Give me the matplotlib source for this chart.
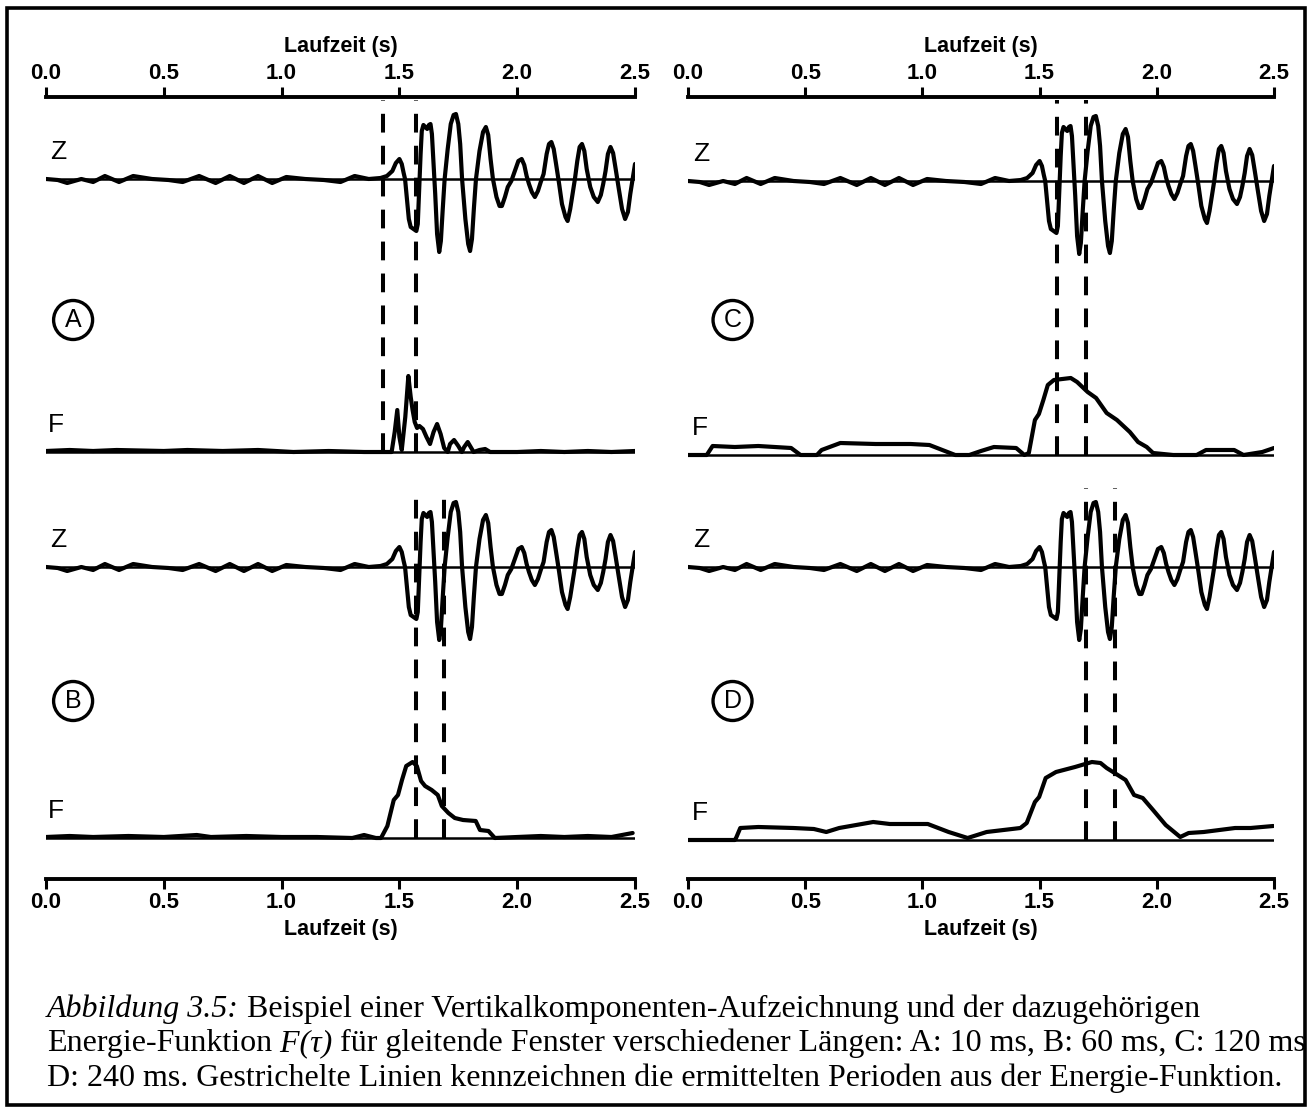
import matplotlib
matplotlib.use("Agg")
import matplotlib.pyplot as plt
from matplotlib.patches import Rectangle

plt.rcParams['lines.scale_dashes'] = False

# ---------------- data (amplitudes in drawing units, time in s) ----------------
xticks = [0.0, 0.5, 1.0, 1.5, 2.0, 2.5]
xticklabels = ["0.0", "0.5", "1.0", "1.5", "2.0", "2.5"]
axis_label = "Laufzeit (s)"

# vertical component seismogram (same record in all four panels)
z_t = [0.00, 0.05, 0.09, 0.15, 0.20, 0.25, 0.31, 0.37, 0.45, 0.52, 0.58, 0.65,
       0.72, 0.78, 0.84, 0.90, 0.96, 1.02, 1.10, 1.18, 1.25, 1.31, 1.37, 1.42,
       1.447, 1.47, 1.485, 1.50, 1.51, 1.518, 1.524, 1.532, 1.54, 1.548, 1.56,
       1.572, 1.578, 1.584, 1.59, 1.595, 1.602, 1.61, 1.618, 1.625, 1.632, 1.638,
       1.645, 1.652, 1.66, 1.669, 1.676, 1.684, 1.692, 1.705, 1.718, 1.73, 1.74,
       1.75, 1.758, 1.766, 1.78, 1.792, 1.80, 1.808, 1.816, 1.825, 1.84, 1.855,
       1.867, 1.877, 1.887, 1.897, 1.912, 1.925, 1.935, 1.948, 1.96, 1.975, 1.99,
       2.005, 2.019, 2.03, 2.04, 2.05, 2.062, 2.075, 2.088, 2.10, 2.112, 2.125,
       2.135, 2.145, 2.155, 2.165, 2.178, 2.19, 2.205, 2.214, 2.225, 2.235, 2.245,
       2.255, 2.265, 2.275, 2.285, 2.295, 2.31, 2.325, 2.342, 2.355, 2.365, 2.375,
       2.385, 2.396, 2.407, 2.418, 2.43, 2.445, 2.458, 2.47, 2.48, 2.49, 2.50]
z_v = [0, -1, -4, 0, -3, 3, -3, 3, 0, -1, -3, 3,
       -4, 3, -4, 3, -4, 2, 0, -1, -3, 3, 0, 1,
       3, 8, 16, 20, 15, 6, 0, -20, -40, -48, -50,
       -52, -45, -10, 25, 48, 54, 52, 50, 54, 55, 45,
       15, -15, -55, -73, -62, -30, 0, 30, 55, 64, 65,
       55, 35, 0, -40, -65, -72, -60, -30, 0, 28, 47,
       52, 44, 20, 0, -18, -27, -27, -18, -8, -2, 8,
       18, 20, 14, 3, -5, -13, -18, -12, -3, 5, 25,
       35, 37, 30, 15, -5, -25, -38, -42, -30, -15, 0,
       18, 32, 35, 28, 10, -8, -18, -23, -16, -5, 8,
       25, 32, 26, 10, -8, -30, -40, -33, -15, 0, 15]

# energy functions F(tau) for the four window lengths
fA_t = [0.0, 0.1, 0.2, 0.3, 0.5, 0.6, 0.75, 0.9, 1.05, 1.2, 1.35, 1.44, 1.467,
        1.48, 1.491, 1.50, 1.51, 1.525, 1.538, 1.548, 1.556, 1.565, 1.575, 1.585,
        1.60, 1.615, 1.63, 1.645, 1.66, 1.675, 1.69, 1.705, 1.715, 1.732, 1.75,
        1.765, 1.775, 1.79, 1.805, 1.815, 1.84, 1.864, 1.885, 2.0, 2.1, 2.2, 2.3,
        2.4, 2.5]
fA_v = [1, 2, 1, 2, 1, 2, 1, 2, 0, 1, 0, 0, 0,
        20, 42, 15, 2, 35, 76, 55, 42, 30, 24, 26,
        23, 15, 8, 20, 28, 18, 4, 0, 8, 12, 6,
        0, 5, 10, 4, 0, 2, 3, 0, 0, 1, 0, 1,
        0, 1]

fB_t = [0.0, 0.1, 0.2, 0.35, 0.5, 0.64, 0.7, 0.85, 1.0, 1.15, 1.3, 1.35, 1.4,
        1.422, 1.449, 1.476, 1.494, 1.511, 1.529, 1.556, 1.574, 1.592, 1.609,
        1.637, 1.663, 1.68, 1.708, 1.735, 1.77, 1.824, 1.842, 1.878, 1.905, 2.0,
        2.1, 2.2, 2.3, 2.4, 2.49]
fB_v = [1, 2, 1, 2, 1, 3, 1, 2, 1, 1, 0, 3, 0,
        0, 12, 38, 43, 58, 72, 76, 72, 57, 52,
        48, 43, 32, 25, 20, 18, 17, 8, 7, 0, 1,
        2, 1, 2, 1, 5]

fC_t = [0.0, 0.08, 0.105, 0.2, 0.3, 0.44, 0.48, 0.55, 0.57, 0.65, 0.8, 0.95,
        1.03, 1.14, 1.2, 1.25, 1.305, 1.40, 1.435, 1.454, 1.48, 1.497, 1.516,
        1.535, 1.561, 1.633, 1.66, 1.705, 1.741, 1.786, 1.83, 1.885, 1.92, 1.957,
        1.984, 2.07, 2.17, 2.21, 2.33, 2.37, 2.45, 2.5]
fC_v = [0, 0, 9, 8, 9, 7, 0, 0, 5, 12, 11, 11,
        10, 0, 0, 4, 8, 7, 0, 2, 35, 41, 55,
        70, 75, 77, 73, 63, 57, 42, 35, 23, 13, 8,
        2, 0, 0, 5, 5, 0, 3, 7]

fD_t = [0.0, 0.2, 0.205, 0.223, 0.30, 0.45, 0.537, 0.59, 0.645, 0.79, 0.861,
        1.023, 1.112, 1.193, 1.274, 1.418, 1.445, 1.48, 1.498, 1.526, 1.57,
        1.651, 1.723, 1.76, 1.786, 1.82, 1.867, 1.903, 1.94, 1.984, 2.038, 2.1,
        2.136, 2.2, 2.334, 2.4, 2.497]
fD_v = [0, 0, 2, 12, 13, 12, 11, 8, 12, 18, 16,
        16, 8, 2, 8, 12, 17, 38, 43, 62, 68,
        73, 78, 77, 72, 67, 60, 45, 42, 30, 15, 3,
        7, 8, 12, 12, 14]

# picked periods (dashed lines)
picks_A = [1.430, 1.570]
picks_B = [1.570, 1.690]
picks_C = [1.574, 1.698]
picks_D = [1.697, 1.820]

panel_letters = ["A", "B", "C", "D"]

caption_it1 = "Abbildung 3.5:"
caption_rm1 = " Beispiel einer Vertikalkomponenten-Aufzeichnung und der dazugehörigen"
caption_rm2a = "Energie-Funktion"
caption_it2 = " F(τ)"
caption_rm2b = " für gleitende Fenster verschiedener Längen: A: 10 ms, B: 60 ms, C: 120 ms,"
caption_rm3 = "D: 240 ms. Gestrichelte Linien kennzeichnen die ermittelten Perioden aus der Energie-Funktion."

# ---------------- figure ----------------
W, H = 1314, 1114
fig = plt.figure(figsize=(W / 100, H / 100), dpi=100)
fig.patch.set_facecolor("white")

SANS = "Liberation Sans"
SERIF = "Liberation Serif"
TRACE_LW = 3.0
BASE_LW = 1.8
DASH_LW = 2.9
DASH = (0, (13.5, 9.5))
SPINE_LW = 2.8
TICK_FS = 16
LABEL_FS = 15.5

# caption axes (pixel-like coordinates, clipped at the inner right frame edge)
cap = fig.add_axes([0, 0, 1304 / W, 1])
cap.set_xlim(0, 1304)
cap.set_ylim(H, 0)
cap.axis("off")

# frame
fig.add_artist(Rectangle((7 / W, (H - 1105) / H), (1305 - 7) / W, (1105 - 8) / H,
                         transform=fig.transFigure, fill=False, lw=2.6, ec="black"))

ax_bottom_px, ax_top_px = 879, 97
height_units = ax_bottom_px - ax_top_px


def make_column(left_px, right_px):
    ax = fig.add_axes([left_px / W, (H - ax_bottom_px) / H,
                       (right_px - left_px) / W, height_units / H])
    ax.set_xlim(0, 2.5)
    ax.set_ylim(0, height_units)
    for s in ["left", "right", "top"]:
        ax.spines[s].set_visible(False)
    ax.spines["bottom"].set_linewidth(SPINE_LW)
    ax.set_yticks([])
    ax.set_xticks(xticks)
    ax.set_xticklabels(xticklabels, fontfamily=SANS, fontweight="bold", fontsize=TICK_FS)
    ax.tick_params(axis="x", direction="out", length=7, width=2.2, pad=2)
    ax.set_xlabel(axis_label, fontfamily=SANS, fontweight="bold", fontsize=LABEL_FS,
                  labelpad=5)
    sec = ax.secondary_xaxis("top")
    sec.spines["top"].set_linewidth(SPINE_LW)
    sec.set_xticks(xticks)
    sec.set_xticklabels(xticklabels, fontfamily=SANS, fontweight="bold", fontsize=TICK_FS)
    sec.tick_params(axis="x", direction="out", length=7, width=2.2, pad=2)
    sec.set_xlabel(axis_label, fontfamily=SANS, fontweight="bold", fontsize=LABEL_FS,
                   labelpad=8)
    ax.patch.set_alpha(0)
    return ax


def draw_trace(ax, t, v, base, label, label_t):
    ax.axhline(base, color="black", lw=BASE_LW)
    ax.plot(t, [base + a for a in v], color="black", lw=TRACE_LW,
            solid_joinstyle="round", solid_capstyle="round")
    ax.text(label_t, base + 27, label, fontfamily=SANS, fontsize=19,
            ha="center", va="center")


def draw_letter(ax, t, y, letter):
    ax.text(t, y, letter, fontfamily=SANS, fontsize=18, ha="center", va="center",
            bbox=dict(boxstyle="circle,pad=0.3", fc="none", ec="black", lw=2.4))


# left column
axL = make_column(46, 635)
yZA, yFA, yZB, yFB = 879 - 179, 879 - 452, 879 - 567, 879 - 838
draw_trace(axL, z_t, z_v, yZA, "Z", 0.05)
draw_trace(axL, fA_t, fA_v, yFA, "F", 0.04)
draw_trace(axL, z_t, z_v, yZB, "Z", 0.05)
draw_trace(axL, fB_t, fB_v, yFB, "F", 0.04)
axL.vlines(picks_A, yFA, 879 - 100, colors="black", lw=DASH_LW, linestyles=[DASH])
axL.vlines(picks_B, yFB, 879 - 488, colors="black", lw=DASH_LW, linestyles=[DASH])
draw_letter(axL, 0.115, 879 - 320, panel_letters[0])
draw_letter(axL, 0.115, 879 - 701, panel_letters[1])

# right column
axR = make_column(688, 1274)
yZC, yFC, yZD, yFD = 879 - 181, 879 - 455, 879 - 567, 879 - 840
draw_trace(axR, z_t, z_v, yZC, "Z", 0.055)
draw_trace(axR, fC_t, fC_v, yFC, "F", 0.05)
draw_trace(axR, z_t, z_v, yZD, "Z", 0.055)
draw_trace(axR, fD_t, fD_v, yFD, "F", 0.05)
axR.vlines(picks_C, yFC, 879 - 100, colors="black", lw=DASH_LW, linestyles=[DASH])
axR.vlines(picks_D, yFD, 879 - 488, colors="black", lw=DASH_LW, linestyles=[DASH])
draw_letter(axR, 0.19, 879 - 320, panel_letters[2])
draw_letter(axR, 0.19, 879 - 701, panel_letters[3])

# caption
CAP_FS = 23
t1 = cap.text(47, 1024, caption_it1, fontfamily=SERIF, fontstyle="italic",
              fontsize=CAP_FS, va="bottom", ha="left", clip_on=True)
cap.annotate(caption_rm1, xy=(1, 0), xycoords=t1, va="bottom", ha="left",
             fontfamily=SERIF, fontsize=CAP_FS, clip_on=True)
t2 = cap.text(47, 1058, caption_rm2a, fontfamily=SERIF, fontsize=CAP_FS,
              va="bottom", ha="left", clip_on=True)
t3 = cap.annotate(caption_it2, xy=(1, 0), xycoords=t2, va="bottom", ha="left",
                  fontfamily=SERIF, fontstyle="italic", fontsize=CAP_FS, clip_on=True)
cap.annotate(caption_rm2b, xy=(1, 0), xycoords=t3, va="bottom", ha="left",
             fontfamily=SERIF, fontsize=CAP_FS, clip_on=True)
cap.text(47, 1093, caption_rm3, fontfamily=SERIF, fontsize=CAP_FS,
         va="bottom", ha="left", clip_on=True)

fig.savefig("out.png", dpi=100)
